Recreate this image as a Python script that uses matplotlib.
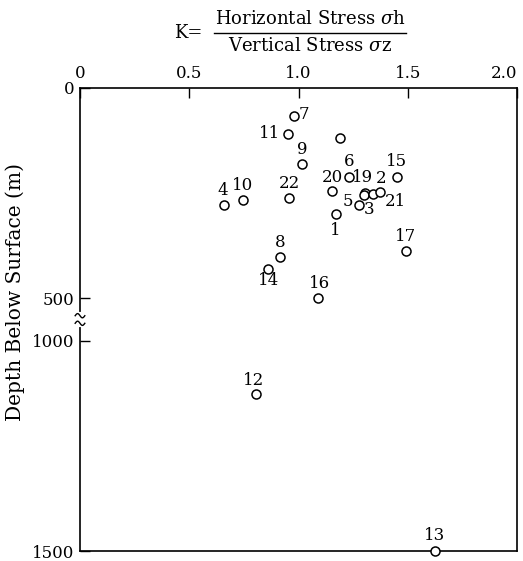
import numpy as np
import matplotlib.pyplot as plt
from matplotlib.lines import Line2D
import matplotlib.transforms as mtransforms

plt.rcParams['font.family'] = 'DejaVu Serif'
plt.rcParams['mathtext.fontset'] = 'dejavuserif'

# stress ratio K and depth (m)
labels = ['7', '', '11', '9', '6', '15', '20', '19', '3', '2', '21', '5', '1',
          '22', '10', '4', '17', '8', '14', '16', '12', '13']
k_vals = [0.98, 1.19, 0.95, 1.015, 1.23, 1.45, 1.155, 1.305, 1.30, 1.34, 1.375,
          1.275, 1.17, 0.955, 0.745, 0.66, 1.49, 0.915, 0.86, 1.09, 0.805, 1.625]
depths = [66, 118, 110, 180, 211, 211, 244, 250, 254, 252, 248,
          277, 299, 262, 266, 278, 387, 401, 431, 500, 1127, 1500]

ytick_vals = [0, 500, 1000, 1500]
xtick_vals = [0, 0.5, 1.0, 1.5, 2.0]
xtick_labels = ['0', '0.5', '1.0', '1.5', '2.0']

# label offsets in pixels (dx, dy), positive dy = up
offsets = {'7': (10, 1), '11': (-18, 1), '9': (0, 14), '6': (0, 15), '15': (0, 15),
           '20': (0, 13), '19': (-3, 16), '3': (5, -15), '2': (8, 16), '21': (15, -9),
           '5': (-11, 3), '1': (0, -17), '22': (1, 15), '10': (0, 14), '4': (-1, 15),
           '17': (0, 14), '8': (0, 14), '14': (1, -11), '16': (1, 15), '12': (-2, 14),
           '13': (-1, 15)}

GAP = 400  # depths below the break are shifted up by this much


def fold(d):
    d = np.asarray(d, dtype=float)
    return np.where(d > 750, d - GAP, d)


fig = plt.figure(figsize=(5.23, 5.61), dpi=100)
ax = fig.add_axes([80 / 523, 1 - 551 / 561, 437 / 523, 463 / 561])

y = fold(depths)
ax.plot(k_vals, y, 'o', ms=6.5, mfc='white', mec='black', mew=1.1, clip_on=False, zorder=3)

for lab, kx, ky in zip(labels, k_vals, y):
    if not lab:
        continue
    dx, dy = offsets[lab]
    ax.annotate(lab, (kx, ky), xytext=(dx * 0.72, dy * 0.72), textcoords='offset points',
                ha='center', va='center', fontsize=12)

ax.set_xlim(0, 2.0)
ax.set_ylim(1100, 0)
ax.xaxis.tick_top()
ax.set_xticks(xtick_vals)
ax.set_xticklabels(xtick_labels)
for t in ax.get_xticklabels():
    t.set_fontsize(12)
ax.get_xticklabels()[-1].set_ha('right')
ax.set_yticks(fold(ytick_vals))
ax.set_yticklabels([str(v) for v in ytick_vals], fontsize=12)
ax.tick_params(direction='in', length=7, width=1.0, pad=4)
ax.tick_params(axis='x', pad=4)
for s in ax.spines.values():
    s.set_linewidth(1.2)

ax.set_ylabel('Depth Below Surface (m)', fontsize=14.5, labelpad=4)
ax.yaxis.set_label_coords(-0.125, 0.56)

# axis break on the left spine
trans = mtransforms.blended_transform_factory(ax.transAxes, ax.transData)
ax.plot([0, 0], [538, 562], color='white', lw=3, transform=trans, clip_on=False, zorder=4)
tt = np.linspace(-1, 1, 30)
for yc in (541, 559):
    ax.plot(tt * 0.011, yc + 5 * np.sin(tt * np.pi), color='black', lw=1.0,
            transform=trans, clip_on=False, zorder=5)

# title as a fraction
fig.text(188 / 523, 1 - 33 / 561, 'K=', ha='center', va='center', fontsize=13)
fig.text(310 / 523, 1 - 19 / 561, r'Horizontal Stress $\sigma$h', ha='center', va='center', fontsize=13)
fig.text(310 / 523, 1 - 46 / 561, r'Vertical Stress $\sigma$z', ha='center', va='center', fontsize=13)
fig.add_artist(Line2D([214 / 523, 406 / 523], [1 - 33 / 561, 1 - 33 / 561], color='black', lw=1.0))

fig.savefig('out.png', dpi=100)
